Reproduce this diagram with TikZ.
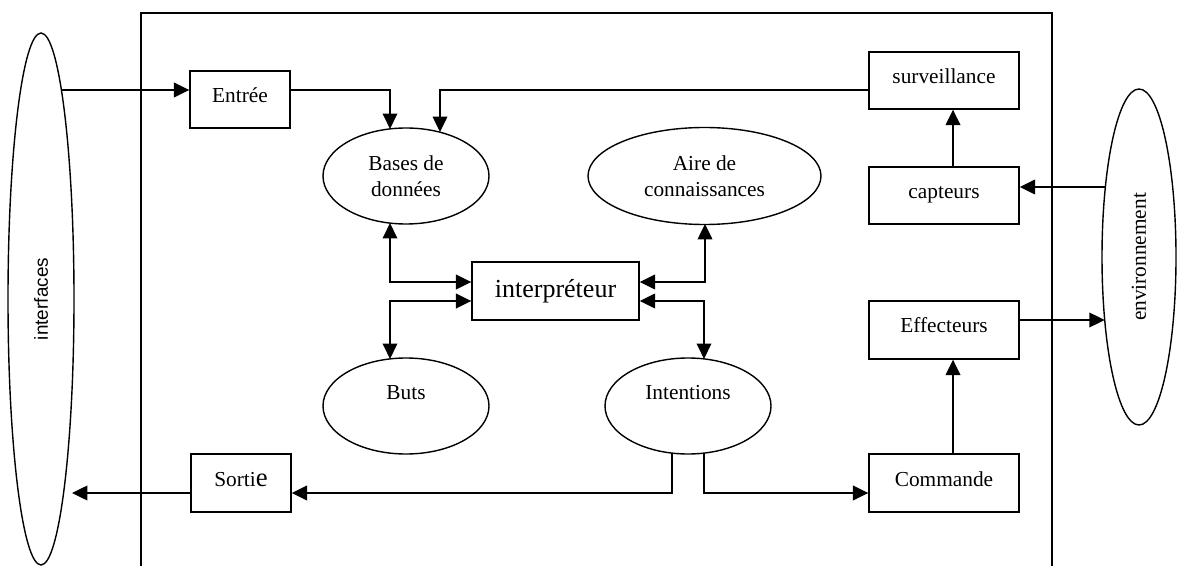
\documentclass[tikz,border=0pt]{standalone}
\usepackage{fontspec}
\setmainfont{Liberation Serif}
\newfontfamily\arialf{Liberation Sans}
\usetikzlibrary{shapes.geometric,arrows.meta,calc}
\newdimen\pxu \pxu=0.75pt
\begin{document}
\begin{tikzpicture}[x=0.75pt,y=-0.75pt,
  every node/.style={font=\fontsize{16}{19.5}\selectfont},
  ln/.style={line width=1.05pt},
  box/.style={draw, ln, rectangle, inner sep=0pt, text height=9pt, text depth=4.5pt},
  oval/.style={draw, ln, ellipse, inner sep=0pt, align=center},
  arr/.style={ln, -{Triangle[length=11.5pt,width=11pt]}},
  darr/.style={ln, {Triangle[length=11.5pt,width=11pt]}-{Triangle[length=11.5pt,width=11pt]}}]
\useasboundingbox (0,0) rectangle (1177,566);

% frame
\draw[ln] (141,570) -- (141,13) -- (1052,13) -- (1052,570);

% boxes
\node[box, minimum width=100\pxu, minimum height=57\pxu] (entree) at (240,99.5) {Entrée};
\node[box, minimum width=150\pxu, minimum height=57\pxu] (surv) at (944,80.5) {surveillance};
\node[box, minimum width=150\pxu, minimum height=57\pxu] (capt) at (944,195.5) {capteurs};
\node[box, minimum width=150\pxu, minimum height=58\pxu] (eff) at (944,330) {Effecteurs};
\node[box, minimum width=150\pxu, minimum height=58\pxu] (cmd) at (944,483) {Commande};
\node[box, minimum width=100\pxu, minimum height=58\pxu] (sortie) at (241,483) {Sorti{\fontsize{20}{20}\selectfont e}};
\node[draw, ln, rectangle, inner sep=0pt, minimum width=167\pxu, minimum height=58\pxu,
      font=\fontsize{19.5}{22}\selectfont] (interp) at (555.5,291) {interpréteur};

% ellipses
\node[oval, minimum width=166\pxu, minimum height=96\pxu] (bases) at (406,176) {Bases de\\données};
\node[oval, minimum width=233\pxu, minimum height=97\pxu] (aire) at (704.5,176) {Aire de\\connaissances};
\node[oval, minimum width=166\pxu, minimum height=96\pxu] (buts) at (406,406) {Buts\\[-5pt]\strut};
\node[oval, minimum width=166\pxu, minimum height=96\pxu] (intent) at (688,406) {Intentions\\[-5pt]\strut};
\node[oval, rotate=90, minimum width=532\pxu, minimum height=66\pxu,
      font=\arialf\fontsize{14.2}{16}\selectfont] (interf) at (41,299) {interfaces};
\node[oval, rotate=90, minimum width=336\pxu, minimum height=74\pxu] (env) at (1139,257) {environnement};

% connection points
\coordinate (p1) at (61,90);
\coordinate (bA) at (390,128.9);
\coordinate (bB) at (440,132);
\coordinate (bC) at (390,223.1);
\coordinate (butsT) at (390,358.9);
\coordinate (aireB) at (705,224);
\coordinate (intT) at (704,358.9);
\coordinate (intB1) at (672,453.1);
\coordinate (intB2) at (704,453.1);
\coordinate (envIn) at (1105.4,187);
\coordinate (envOut) at (1104.7,320);
\coordinate (interfOut) at (72,493);
\coordinate (xc) at (953,0);
\coordinate (yl) at (0,493);
\coordinate (ya) at (0,282);
\coordinate (yb) at (0,301);

% connectors
\draw[arr] (p1) -- (p1 -| entree.west);
\draw[arr] (p1 -| entree.east) -| (bA);
\draw[arr] (p1 -| surv.west) -| (bB);
\draw[arr] (capt.north -| xc) -- (surv.south -| xc);
\draw[arr] (envIn) -- (envIn -| capt.east);
\draw[arr] (envOut -| eff.east) -- (envOut);
\draw[arr] (cmd.north -| xc) -- (eff.south -| xc);
\draw[arr] (intB2) |- (yl -| cmd.west);
\draw[arr] (intB1) |- (yl -| sortie.east);
\draw[arr] (yl -| sortie.west) -- (interfOut);
\draw[darr] (bC) |- (ya -| interp.west);
\draw[darr] (yb -| interp.west) -| (butsT);
\draw[darr] (ya -| interp.east) -| (aireB);
\draw[darr] (yb -| interp.east) -| (intT);
\end{tikzpicture}
\end{document}
